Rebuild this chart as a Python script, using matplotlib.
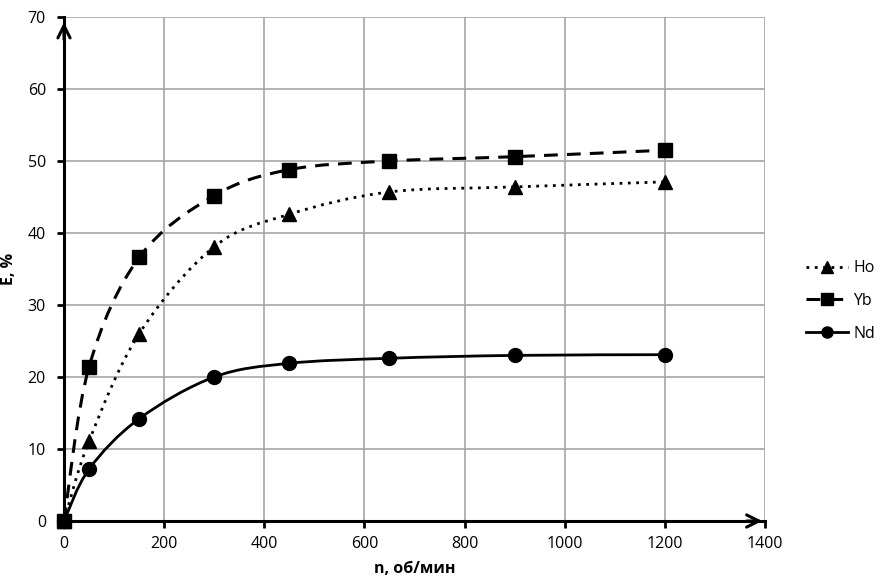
import numpy as np
import matplotlib
matplotlib.use('Agg')
import matplotlib.pyplot as plt
from matplotlib.path import Path
from matplotlib.patches import PathPatch
from matplotlib.lines import Line2D

# data
n_rpm = [0, 50, 150, 300, 450, 650, 900, 1200]
ho = [0, 11.1, 26.0, 38.1, 42.6, 45.7, 46.4, 47.1]
yb = [0, 21.4, 36.6, 45.2, 48.8, 50.0, 50.6, 51.5]
nd = [0, 7.2, 14.2, 20.0, 21.9, 22.6, 23.0, 23.1]
names = ['Ho', 'Yb', 'Nd']
x_ticks = [0, 200, 400, 600, 800, 1000, 1200, 1400]
y_ticks = [0, 10, 20, 30, 40, 50, 60, 70]

plt.rcParams['font.family'] = ['Open Sans', 'DejaVu Sans']


def smooth_path(x, y):
    # Excel-like smoothed line: Catmull-Rom converted to cubic Bezier segments
    p = np.column_stack([x, y]).astype(float)
    verts = [p[0]]
    codes = [Path.MOVETO]
    for i in range(len(p) - 1):
        p0 = p[i - 1] if i > 0 else p[i]
        p3 = p[i + 2] if i + 2 < len(p) else p[i + 1]
        c1 = p[i] + (p[i + 1] - p0) / 6
        c2 = p[i + 1] - (p3 - p[i]) / 6
        verts += [c1, c2, p[i + 1]]
        codes += [Path.CURVE4] * 3
    return Path(verts, codes)


fig = plt.figure(figsize=(8.91, 5.86), dpi=100)
ax = fig.add_axes([64 / 891, 1 - 521 / 586, 701 / 891, 504 / 586])

styles = [
    (ho, (0, (1, 2)), '^', 2.0),
    (yb, (0, (4.5, 3)), 's', 2.2),
    (nd, 'solid', 'o', 2.0),
]
handles = []
for (vals, ls, mk, lw), name in zip(styles, names):
    patch = PathPatch(smooth_path(n_rpm, vals), facecolor='none', edgecolor='black',
                      linestyle=ls, linewidth=lw, capstyle='butt', zorder=3)
    ax.add_patch(patch)
    ax.plot(n_rpm, vals, linestyle='none', marker=mk, markersize=10, color='black', zorder=4,
            clip_on=False)
    handles.append(Line2D([], [], color='black', linestyle=ls, linewidth=lw, marker=mk,
                          markersize=8))

ax.set_xlim(0, 1400)
ax.set_ylim(0, 70)
ax.set_xticks(x_ticks)
ax.set_yticks(y_ticks)
ax.grid(True, color='#a6a6a6', linewidth=1.2)
ax.set_axisbelow(True)
for s in ['top', 'right']:
    ax.spines[s].set_visible(False)
for s in ['left', 'bottom']:
    ax.spines[s].set_linewidth(2.2)
    ax.spines[s].set_zorder(5)
ax.tick_params(axis='both', direction='out', length=5, width=2, labelsize=11.5, color='black')
ax.tick_params(axis='x', pad=6)
ax.tick_params(axis='y', pad=8)

# arrow heads on the axes
ax.annotate('', xy=(1, 0), xytext=(0.97, 0), xycoords='axes fraction',
            arrowprops=dict(arrowstyle='->', color='black', lw=2.2, mutation_scale=22),
            annotation_clip=False, zorder=6)
ax.annotate('', xy=(0, 0.995), xytext=(0, 0.95), xycoords='axes fraction',
            arrowprops=dict(arrowstyle='->', color='black', lw=2.2, mutation_scale=22),
            annotation_clip=False, zorder=6)

ax.set_xlabel('n, об/мин', fontsize=11.5, fontweight='bold', labelpad=6)
ax.set_ylabel('E, %', fontsize=11.5, fontweight='bold', labelpad=8)

fig.legend(handles, names, loc='center left', bbox_to_anchor=(806 / 891, 1 - 301 / 586),
           frameon=False, fontsize=11.5, handlelength=2.6, handletextpad=0.35,
           labelspacing=1.05, borderpad=0, borderaxespad=0)

fig.savefig('out.png', dpi=100)
